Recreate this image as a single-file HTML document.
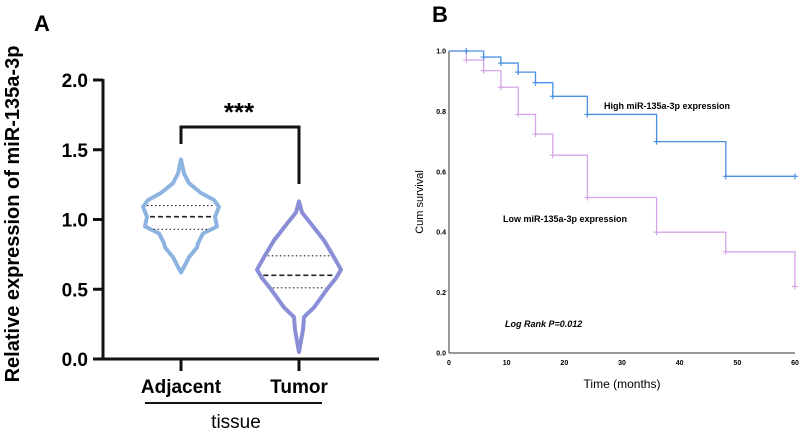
<!DOCTYPE html>
<html><head><meta charset="utf-8"><style>
html,body{margin:0;padding:0;background:#fff;}
svg{display:block;font-family:"Liberation Sans",Arial,sans-serif;}
</style></head><body>
<svg id="fig" width="800" height="433" viewBox="0 0 800 433" xmlns="http://www.w3.org/2000/svg">
<text x="34" y="31" font-size="22" font-weight="bold">A</text>
<text x="432" y="22" font-size="22" font-weight="bold">B</text>
<g id="pa"></g>
<g id="pb"></g>
</svg>
<script>
// ---- Panel A data ----
const groups = ["Adjacent", "Tumor"];
const adjProfileVals = [1.43,1.33,1.26,1.19,1.14,1.09,1.02,0.95,0.90,0.83,0.80,0.73,0.66,0.62];
const adjProfileWidth = [0,3,8,20,33,38,34,36,22,17,16,8,3,0];
const tumProfileVals = [1.13,1.05,0.97,0.85,0.73,0.64,0.58,0.50,0.37,0.30,0.21,0.05];
const tumProfileWidth = [0,3,12,25,35,42,37,28,15,5,4,0];
const adjQuartiles = [0.93, 1.02, 1.10];
const tumQuartiles = [0.51, 0.60, 0.74];
const yTicksA = [0, 0.5, 1.0, 1.5, 2.0];
// ---- Panel B data ----
const highTimes = [0,6,9,12,15,18,24,36,48,60];
const highSurv = [1.0,0.98,0.96,0.93,0.895,0.85,0.79,0.70,0.585,0.585];
const highCensor = [3,6,9,12,15,18,24,36,48,60];
const lowTimes = [0,3,6,9,12,15,18,24,36,48,60];
const lowSurv = [1.0,0.97,0.935,0.88,0.79,0.725,0.655,0.515,0.40,0.335,0.22];
const lowCensor = [3,6,9,12,15,18,24,36,48,60];
const xTicksB = [0,10,20,30,40,50,60];
const yTicksB = [0,0.2,0.4,0.6,0.8,1.0];

const NS="http://www.w3.org/2000/svg";
function mk(parent, tag, attrs, text){const e=document.createElementNS(NS,tag);for(const k in attrs)e.setAttribute(k,attrs[k]);if(text!==undefined)e.textContent=text;parent.appendChild(e);return e;}

// Panel A
const pa=document.getElementById('pa');
const yA=v=>359-v*139.5;
const xA=[181,299];
let e;
e=mk(pa,'line',{x1:103,y1:79,x2:103,y2:360,stroke:'#111','stroke-width':3});


e=mk(pa,'line',{x1:102,y1:359,x2:379,y2:359,stroke:'#111','stroke-width':3});


yTicksA.forEach(v=>{
  mk(pa,'line',{x1:93,y1:yA(v),x2:103,y2:yA(v),stroke:'#111','stroke-width':3});
  e=mk(pa,'text',{x:88,y:yA(v)+7,'font-size':19,'font-weight':'bold','text-anchor':'end'},v.toFixed(1));
  
  
});
groups.forEach((g,i)=>{
  mk(pa,'line',{x1:xA[i],y1:359,x2:xA[i],y2:371,stroke:'#111','stroke-width':3});
  e=mk(pa,'text',{x:xA[i],y:393,'font-size':19,'font-weight':'bold','text-anchor':'middle'},g);
  
  
});
mk(pa,'line',{x1:145,y1:403,x2:322,y2:403,stroke:'#111','stroke-width':2});
e=mk(pa,'text',{x:236,y:428,'font-size':19,'text-anchor':'middle'},'tissue');


e=mk(pa,'text',{x:0,y:0,'font-size':20,'font-weight':'bold','text-anchor':'middle',transform:'translate(19,214) rotate(-90)'},'Relative expression of miR-135a-3p');


function violin(vals,w,cx,color,q,name){
  let right=vals.map((v,k)=>[cx+w[k],yA(v)]);
  let left=vals.map((v,k)=>[cx-w[k],yA(v)]).reverse();
  let pts=right.concat(left);
  let d='M'+pts.map(p=>p[0].toFixed(1)+','+p[1].toFixed(1)).join(' L')+'Z';
  e=mk(pa,'path',{d:d,fill:'none',stroke:color,'stroke-width':4,'stroke-linejoin':'round'});
  
  
  function hw(v){for(let k=0;k<vals.length-1;k++){if(v<=vals[k]&&v>=vals[k+1]){let t=(vals[k]-v)/(vals[k]-vals[k+1]);return w[k]+t*(w[k+1]-w[k]);}}return 0;}
  q.forEach((v,k)=>{const h=hw(v)-3;mk(pa,'line',{x1:cx-h,y1:yA(v),x2:cx+h,y2:yA(v),stroke:'#222','stroke-width':k==1?1.6:1.1,'stroke-dasharray':k==1?'5,3':'1.5,2.5'});});
}
violin(adjProfileVals,adjProfileWidth,xA[0],'#8db4e0',adjQuartiles,'violin-adjacent');
violin(tumProfileVals,tumProfileWidth,xA[1],'#8a8ed6',tumQuartiles,'violin-tumor');
e=mk(pa,'path',{d:'M181,144 L181,127 L299,127 L299,184',fill:'none',stroke:'#111','stroke-width':3});


e=mk(pa,'text',{x:239,y:121,'font-size':26,'font-weight':'bold','text-anchor':'middle'},'***');



// Panel B
const pb=document.getElementById('pb');
const xB=t=>449+t*(795-449)/60;
const yB=s=>353-s*(353-51);
e=mk(pb,'line',{x1:449,y1:51,x2:449,y2:353,stroke:'#333','stroke-width':1});


e=mk(pb,'line',{x1:449,y1:353,x2:795,y2:353,stroke:'#333','stroke-width':1});


yTicksB.forEach(v=>{
  e=mk(pb,'text',{x:446,y:yB(v)+2.5,'font-size':7,'font-weight':'bold','text-anchor':'end'},v.toFixed(1));
  
  
});
xTicksB.forEach(v=>{
  e=mk(pb,'text',{x:xB(v),y:365,'font-size':7,'font-weight':'bold','text-anchor':'middle'},v);
  
  
});
e=mk(pb,'text',{x:622,y:388,'font-size':12,'text-anchor':'middle'},'Time (months)');


e=mk(pb,'text',{x:0,y:0,'font-size':11,'text-anchor':'middle',transform:'translate(423,202) rotate(-90)'},'Cum survival');


function stepCurve(times,surv,cens,color,name){
  let d='M'+xB(times[0])+','+yB(surv[0]);
  for(let k=1;k<times.length;k++){d+=' L'+xB(times[k])+','+yB(surv[k-1])+' L'+xB(times[k])+','+yB(surv[k]);}
  e=mk(pb,'path',{d:d,fill:'none',stroke:color,'stroke-width':1.3});
  
  
  cens.forEach(t=>{
    let s=surv[0];for(let k=0;k<times.length;k++){if(times[k]<=t)s=surv[k];}
    e=mk(pb,'path',{d:'M'+(xB(t)-3)+','+yB(s)+' h6 M'+xB(t)+','+(yB(s)-3)+' v6',stroke:color,'stroke-width':1.2});
    
    
  });
}
stepCurve(lowTimes,lowSurv,lowCensor,'#d7a6e8','low-expression-curve');
stepCurve(highTimes,highSurv,highCensor,'#4a90e2','high-expression-curve');
e=mk(pb,'text',{x:604,y:109,'font-size':9,'font-weight':'bold'},'High miR-135a-3p expression');


e=mk(pb,'text',{x:503,y:222,'font-size':9,'font-weight':'bold'},'Low miR-135a-3p expression');


e=mk(pb,'text',{x:505,y:327,'font-size':9,'font-weight':'bold','font-style':'italic'},'Log Rank P=0.012');


</script>
</body></html>
